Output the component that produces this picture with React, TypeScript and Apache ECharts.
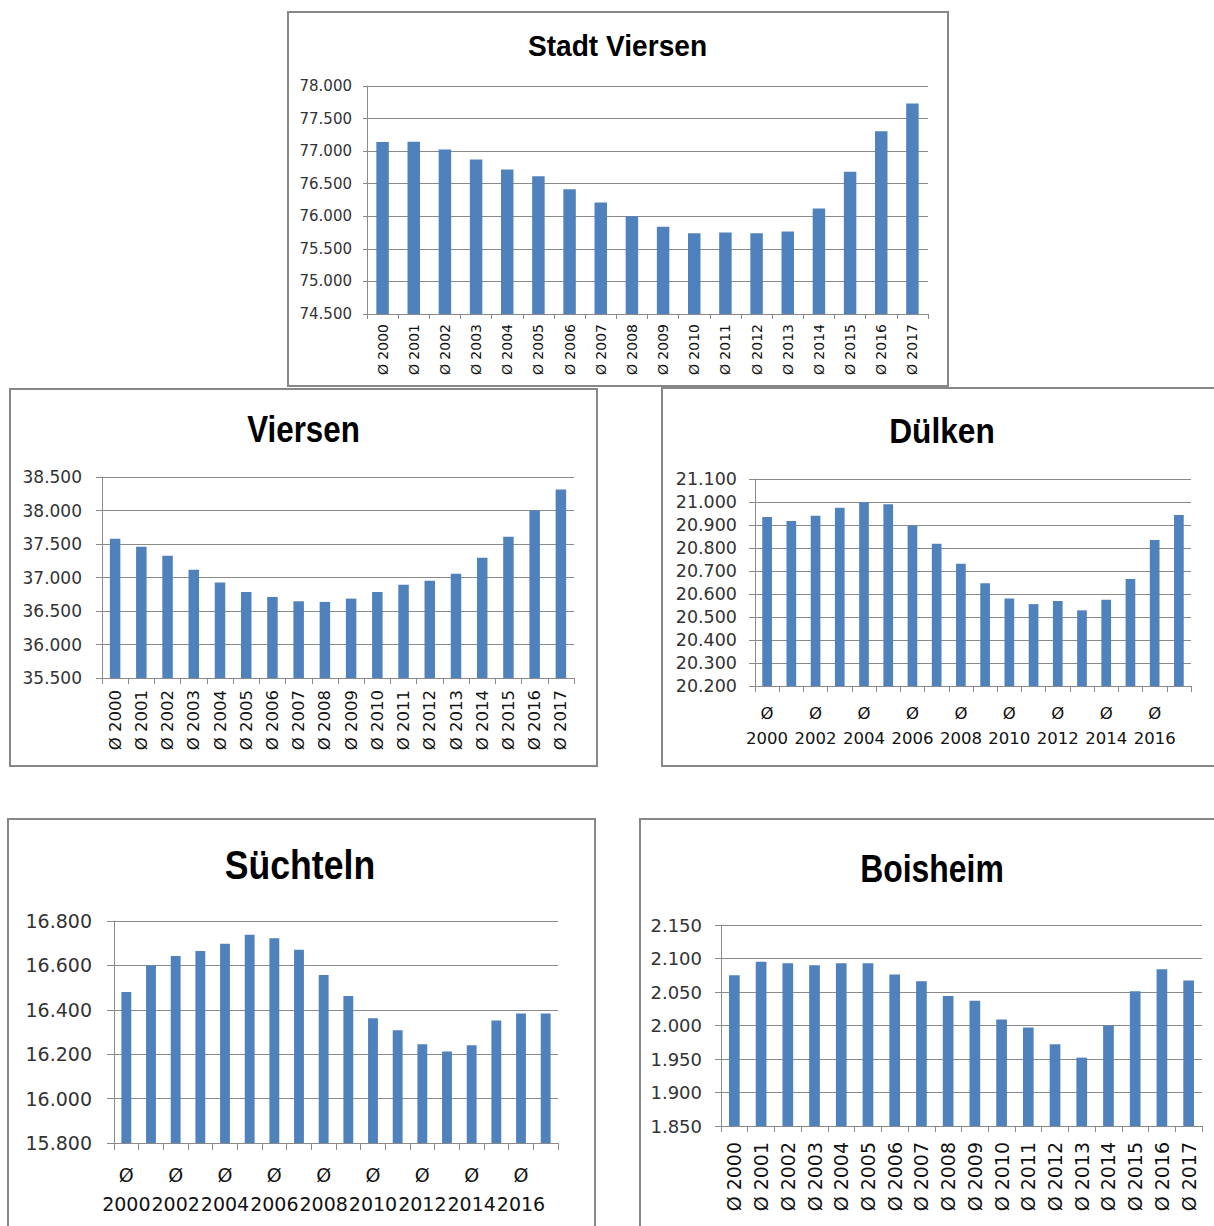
import React, { useEffect, useRef } from "react";
import * as echarts from "echarts";

const categories = [
  "Ø 2000", "Ø 2001", "Ø 2002", "Ø 2003", "Ø 2004", "Ø 2005", "Ø 2006", "Ø 2007", "Ø 2008",
  "Ø 2009", "Ø 2010", "Ø 2011", "Ø 2012", "Ø 2013", "Ø 2014", "Ø 2015", "Ø 2016", "Ø 2017",
];

const stadtViersen = [77140, 77145, 77025, 76870, 76720, 76615, 76415, 76210, 76000, 75840, 75740, 75750, 75740, 75765, 76120, 76685, 77305, 77730];
const viersen = [37580, 37460, 37325, 37115, 36925, 36785, 36710, 36645, 36635, 36685, 36785, 36890, 36950, 37055, 37295, 37610, 38000, 38315];
const duelken = [20935, 20917, 20940, 20975, 21000, 20990, 20898, 20818, 20732, 20647, 20580, 20556, 20570, 20529, 20575, 20665, 20835, 20944];
const suechteln = [16480, 16600, 16642, 16665, 16697, 16738, 16722, 16670, 16557, 16462, 16362, 16308, 16245, 16212, 16240, 16352, 16383, 16383];
const boisheim = [2075, 2095, 2093, 2090, 2093, 2093, 2076, 2066, 2044, 2037, 2009, 1997, 1972, 1952, 2000, 2051, 2084, 2067];

const titles = ["Stadt Viersen", "Viersen", "Dülken", "Süchteln", "Boisheim"];
const yMins = [74500, 35500, 20200, 15800, 1850];
const yMaxs = [78000, 38500, 21100, 16800, 2150];
const yIntervals = [500, 500, 100, 200, 50];
const seriesData = [stadtViersen, viersen, duelken, suechteln, boisheim];

const fmt = (v: number) => String(Math.round(v)).replace(/\B(?=(\d{3})+(?!\d))/g, ".");

// layout (positions / styles)
const panels = [
  { grid: { left: 367, top: 86, width: 561, height: 228 }, border: [288, 12, 660, 374], title: [617.5, 46, 29, 0.97],
    yFont: 15, yMargin: 15, yTick: 4, xFont: 14, xMargin: 10, xTick: 5, rotate: 90, split: false, lh: 0 },
  { grid: { left: 102, top: 477, width: 472, height: 201 }, border: [10, 389, 587, 377], title: [303.5, 429, 36, 0.87],
    yFont: 17, yMargin: 20, yTick: 6, xFont: 16.5, xMargin: 12, xTick: 6, rotate: 90, split: false, lh: 0 },
  { grid: { left: 755, top: 479, width: 436, height: 207 }, border: [662, 388, 620, 378], title: [942, 430, 36, 0.88],
    yFont: 17.5, yMargin: 18, yTick: 6, xFont: 16.5, xMargin: 15, xTick: 6, rotate: 0, split: true, lh: 25 },
  { grid: { left: 114, top: 921, width: 444, height: 222 }, border: [8, 819, 587, 460], title: [300, 865, 40, 0.89],
    yFont: 19, yMargin: 22, yTick: 7, xFont: 19, xMargin: 17, xTick: 7, rotate: 0, split: true, lh: 29 },
  { grid: { left: 721, top: 925, width: 481, height: 201 }, border: [640, 819, 620, 460], title: [932, 868, 38, 0.84],
    yFont: 18, yMargin: 19, yTick: 6, xFont: 19, xMargin: 16, xTick: 6, rotate: 90, split: false, lh: 0 },
];

const LINE = "#8a8a8a";
const BAR = "#4F81BD";
const FONT = "DejaVu Sans";

function buildOption() {
  const grid: any[] = [];
  const xAxis: any[] = [];
  const yAxis: any[] = [];
  const series: any[] = [];
  const graphic: any[] = [];
  panels.forEach((p, i) => {
    grid.push({ ...p.grid });
    xAxis.push({
      type: "category",
      gridIndex: i,
      data: categories,
      boundaryGap: true,
      axisLine: { show: true, lineStyle: { color: LINE, width: 1 } },
      axisTick: { show: true, interval: 0, length: p.xTick, lineStyle: { color: LINE } },
      axisLabel: {
        interval: p.split ? 1 : 0,
        rotate: p.rotate,
        margin: p.xMargin,
        fontSize: p.xFont,
        fontFamily: FONT,
        color: "#111",
        lineHeight: p.split ? p.lh : undefined,
        formatter: p.split ? (v: string) => v.replace(" ", "\n") : (v: string) => v,
      },
      splitLine: { show: false },
    });
    yAxis.push({
      type: "value",
      gridIndex: i,
      min: yMins[i],
      max: yMaxs[i],
      interval: yIntervals[i],
      axisLine: { show: true, lineStyle: { color: LINE, width: 1 } },
      axisTick: { show: true, length: p.yTick, lineStyle: { color: LINE } },
      axisLabel: { formatter: fmt, fontSize: p.yFont, fontFamily: FONT, color: "#333", margin: p.yMargin },
      splitLine: { show: true, lineStyle: { color: LINE, width: 1 } },
    });
    series.push({
      type: "bar",
      xAxisIndex: i,
      yAxisIndex: i,
      data: seriesData[i],
      barWidth: "40%",
      itemStyle: { color: BAR },
      silent: true,
    });
    const [bx, by, bw, bh] = p.border;
    graphic.push({
      type: "rect",
      shape: { x: bx, y: by, width: bw, height: bh },
      style: { fill: "none", stroke: "#878787", lineWidth: 2 },
      silent: true,
    });
    const [tx, ty, ts, sx] = p.title;
    graphic.push({
      type: "text",
      x: tx,
      y: ty,
      scaleX: sx,
      style: {
        text: titles[i],
        fontSize: ts,
        fontWeight: "bold",
        fontFamily: "Liberation Sans",
        fill: "#000",
        align: "center",
        verticalAlign: "middle",
      },
      silent: true,
    });
  });
  return {
    animation: false,
    backgroundColor: "#ffffff",
    grid,
    xAxis,
    yAxis,
    series,
    graphic,
  };
}

export default function App() {
  const ref = useRef<HTMLDivElement>(null);
  useEffect(() => {
    if (!ref.current) return;
    const chart = echarts.init(ref.current, null, { renderer: "svg" });
    chart.setOption(buildOption() as any);
    return () => chart.dispose();
  }, []);
  return (
    <div
      ref={ref}
      style={{ position: "absolute", left: 0, top: 0, width: 1214, height: 1226, background: "#fff", overflow: "hidden" }}
    />
  );
}
